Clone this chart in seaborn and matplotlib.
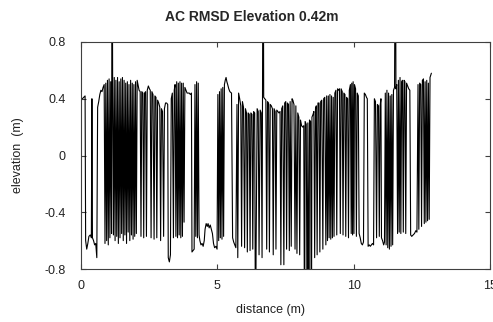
import matplotlib
matplotlib.use("Agg")
import matplotlib.pyplot as plt
import pandas as pd
import seaborn as sns

# Elevation profile, sampled along the track, in sections (distance m, elevation m)
sec1_d = [0.05, 0.10, 0.15, 0.17, 0.21, 0.25, 0.29, 0.34, 0.38, 0.40, 0.42, 0.46, 0.50, 0.54, 0.58,
          0.61, 0.65, 0.69, 0.73, 0.77, 0.81, 0.85]
sec1_e = [0.40, 0.41, 0.42, -0.60, -0.66, -0.62, -0.57, -0.56, -0.58, 0.40, -0.58, -0.60, -0.63, -0.62, -0.72,
          0.34, 0.38, 0.43, 0.46, 0.45, 0.48, 0.50]

sec2_d = [0.88, 0.91, 0.94, 0.97, 1.00, 1.03, 1.06, 1.09, 1.12, 1.14,
          1.16, 1.19, 1.22, 1.25, 1.28, 1.31, 1.34, 1.37, 1.40, 1.43,
          1.46, 1.49, 1.52, 1.55, 1.58, 1.61, 1.64, 1.67, 1.70, 1.73,
          1.76, 1.79, 1.82, 1.85, 1.88, 1.91, 1.94, 1.97, 2.00, 2.03,
          2.06, 2.09]
sec2_e = [-0.62, 0.51, -0.60, 0.53, -0.63, 0.54, -0.58, 0.52, -0.55, 2.00,
          0.54, -0.56, 0.55, -0.60, 0.53, -0.57, 0.55, -0.62, 0.52, -0.58,
          0.54, -0.55, 0.55, -0.60, 0.53, -0.56, 0.51, -0.62, 0.52, -0.54,
          0.50, -0.60, 0.53, -0.56, 0.51, -0.59, 0.50, -0.57, 0.52, -0.55,
          0.53, 0.50]

sec3_d = [2.13, 2.17, 2.20, 2.23, 2.27, 2.30, 2.33, 2.37, 2.40, 2.43,
          2.47, 2.51, 2.54, 2.57, 2.60, 2.64, 2.68, 2.71, 2.75, 2.78,
          2.81, 2.85, 2.89, 2.92, 2.95, 2.99, 3.03, 3.06, 3.10, 3.14,
          3.18, 3.20, 3.24, 3.28, 3.31, 3.35, 3.39, 3.42, 3.45]
sec3_e = [0.46, 0.45, -0.57, 0.45, 0.44, -0.58, 0.44, 0.45, -0.57, 0.46,
          0.49, 0.47, 0.46, -0.58, 0.45, 0.43, -0.59, 0.42, 0.41, -0.58,
          0.39, 0.37, 0.34, -0.60, 0.33, 0.31, -0.57, 0.33, 0.37, 0.37,
          0.36, -0.72, -0.75, -0.70, 0.40, 0.44, -0.58, 0.46, 0.50]

sec4_d = [3.48, 3.51, 3.54, 3.57, 3.60, 3.63, 3.66, 3.69, 3.72, 3.75,
          3.78, 3.81, 3.85, 3.89, 3.93, 3.97, 4.01, 4.05, 4.07, 4.11,
          4.15, 4.18, 4.21, 4.24, 4.27, 4.30, 4.33, 4.36, 4.40, 4.44,
          4.48, 4.52, 4.55, 4.59, 4.63, 4.66, 4.70, 4.74, 4.78, 4.82,
          4.86, 4.90, 4.95, 4.99, 5.02, 5.05, 5.08, 5.11, 5.14, 5.17,
          5.20, 5.23, 5.26, 5.29, 5.32, 5.35, 5.38, 5.42]
sec4_e = [-0.57, 0.52, -0.58, 0.51, -0.56, 0.52, -0.58, 0.51, -0.57, 0.51,
          -0.47, 0.48, 0.46, 0.44, 0.44, 0.44, 0.43, 0.44, -0.68, -0.67,
          -0.66, 0.50, -0.57, 0.52, -0.58, 0.51, -0.56, -0.60, -0.63, -0.62,
          -0.64, -0.60, -0.52, -0.48, -0.50, -0.48, -0.51, -0.49, -0.52, -0.55,
          -0.62, -0.65, -0.64, -0.66, 0.43, -0.60, 0.45, -0.58, 0.47, -0.59,
          0.48, -0.57, 0.50, 0.53, 0.55, 0.52, 0.50, 0.47]

sec5_d = [5.46, 5.52, 5.56, 5.60, 5.64, 5.68, 5.72, 5.75, 5.78, 5.82,
          5.86, 5.89, 5.92, 5.96, 6.00, 6.03, 6.07, 6.10, 6.13, 6.17,
          6.20, 6.23, 6.27, 6.30, 6.33, 6.37, 6.40, 6.42, 6.46, 6.50,
          6.53, 6.57, 6.61, 6.64, 6.68, 6.70, 6.74, 6.78, 6.81, 6.84,
          6.88, 6.91, 6.94, 6.98, 7.02, 7.05, 7.08, 7.12, 7.15, 7.18]
sec5_e = [0.45, 0.44, -0.58, -0.61, -0.63, -0.65, 0.36, -0.72, 0.44, 0.40,
          0.35, -0.64, 0.38, 0.34, -0.65, 0.33, 0.30, -0.68, 0.30, 0.29,
          -0.67, 0.30, 0.29, -0.66, 0.31, 0.30, -1.50, -0.70, 0.33, 0.31,
          -0.70, 0.32, 0.30, -0.72, 2.00, 0.41, 0.40, 0.39, -0.66, 0.38,
          0.37, -0.68, 0.36, 0.35, 0.33, -0.70, 0.33, 0.31, -0.66, 0.32]

sec6_d = [7.22, 7.26, 7.30, 7.33, 7.36, 7.40, 7.44, 7.47, 7.51, 7.54,
          7.57, 7.61, 7.64, 7.67, 7.71, 7.74, 7.77, 7.81, 7.85, 7.88,
          7.92, 7.95, 7.99, 8.02, 8.05, 8.09, 8.13, 8.17, 8.20, 8.22,
          8.26, 8.30, 8.32, 8.36, 8.38, 8.42, 8.45, 8.47, 8.51, 8.54,
          8.57, 8.60, 8.63, 8.66, 8.69, 8.73, 8.76, 8.79, 8.83, 8.87,
          8.90, 8.94, 8.98, 9.01, 9.04, 9.07, 9.10, 9.13, 9.16, 9.19]
sec6_e = [0.31, 0.30, 0.31, -0.77, 0.33, 0.35, -0.77, 0.37, 0.38, -0.66,
          0.37, 0.36, -0.67, 0.38, -0.64, 0.40, 0.39, 0.36, -0.66, 0.35,
          -0.69, 0.30, 0.27, -0.70, 0.25, 0.21, 0.20, 0.21, -1.50, 0.24,
          0.22, -1.50, 0.23, -1.50, 0.25, 0.24, -1.50, 0.27, 0.29, 0.31,
          -0.72, 0.33, 0.35, -0.70, 0.37, 0.37, -0.68, 0.38, 0.39, -0.66,
          0.40, 0.41, -0.63, 0.42, -0.60, 0.42, -0.58, 0.43, -0.59, 0.42]

sec7_d = [9.22, 9.25, 9.28, 9.31, 9.35, 9.38, 9.41, 9.45, 9.48, 9.51,
          9.54, 9.58, 9.61, 9.64, 9.68, 9.71, 9.74, 9.78, 9.81, 9.84,
          9.88, 9.91, 9.93, 9.96, 9.98, 10.01, 10.03, 10.07, 10.10, 10.13,
          10.17, 10.20, 10.24, 10.28, 10.32, 10.36, 10.39, 10.43, 10.47, 10.50,
          10.53, 10.57, 10.61, 10.65, 10.69, 10.73, 10.76, 10.80, 10.84, 10.87,
          10.91, 10.94, 10.97]
sec7_e = [-0.58, 0.41, -0.57, 0.44, 0.46, -0.56, 0.47, 0.46, 0.47, -0.55,
          0.47, 0.45, -0.56, 0.44, 0.43, -0.57, 0.41, 0.40, -0.58, 0.46,
          0.50, -0.55, 0.51, -0.56, 0.52, -0.55, 0.50, 0.47, -0.57, 0.44,
          0.42, -0.55, -0.58, -0.62, -0.63, -0.61, 0.44, 0.43, 0.41, 0.40,
          -0.64, -0.63, -0.64, -0.63, -0.62, -0.63, 0.40, 0.38, -0.58, 0.36,
          0.35, -0.57, 0.35]

sec8_d = [11.00, 11.02, 11.06, 11.10, 11.13, 11.16, 11.19, 11.22, 11.25, 11.28,
          11.31, 11.34, 11.37, 11.40, 11.43, 11.46, 11.50, 11.53, 11.55, 11.58,
          11.61, 11.64, 11.67, 11.70, 11.73, 11.76, 11.79, 11.82, 11.85, 11.88,
          11.91, 11.94, 11.98, 12.02, 12.06, 12.09, 12.13, 12.18, 12.23, 12.28,
          12.32, 12.36, 12.39, 12.42, 12.46, 12.49, 12.52, 12.56, 12.59, 12.62,
          12.65, 12.68, 12.71, 12.74, 12.77, 12.80, 12.85]
sec8_e = [0.40, -0.58, -0.60, -0.63, -0.61, 0.44, -0.63, 0.46, -0.65, 0.44,
          -0.66, 0.42, -0.64, 0.43, -0.63, 0.46, 0.48, 2.00, 0.47, 0.50,
          -0.55, 0.53, -0.54, 0.55, -0.55, 0.52, 0.53, -0.54, 0.53, 0.52,
          -0.55, 0.51, 0.49, 0.47, 0.46, -0.56, -0.57, -0.56, -0.55, -0.53,
          -0.54, 0.50, -0.52, 0.51, 0.50, -0.50, 0.53, 0.54, -0.48, 0.52,
          -0.47, 0.53, -0.46, 0.51, -0.45, 0.55, 0.58]

sections_d = [sec1_d, sec2_d, sec3_d, sec4_d, sec5_d, sec6_d, sec7_d, sec8_d]
sections_e = [sec1_e, sec2_e, sec3_e, sec4_e, sec5_e, sec6_e, sec7_e, sec8_e]
for sd, se in zip(sections_d, sections_e):
    assert len(sd) == len(se)

distance = [v for s in sections_d for v in s]
elevation = [v for s in sections_e for v in s]

x_ticks = [0, 5, 10, 15]
y_ticks = [-0.8, -0.4, 0, 0.4, 0.8]
y_tick_labels = ["-0.8", "-0.4", "0", "0.4", "0.8"]

profile = pd.DataFrame({"distance": distance, "elevation": elevation})

sns.set_style("ticks")
plt.rcParams["font.family"] = ["Liberation Sans", "DejaVu Sans"]

W, H = 493, 322
fig = plt.figure(figsize=(W / 100, H / 100), dpi=100)
ax = fig.add_axes([81 / W, (H - 269) / H, 409 / W, 227 / H])

sns.lineplot(data=profile, x="distance", y="elevation", sort=False,
             estimator=None, color="black", linewidth=0.8, ax=ax)

ax.set_xlim(0, 15)
ax.set_ylim(-0.8, 0.8)
ax.set_xticks(x_ticks)
ax.set_yticks(y_ticks)
ax.set_yticklabels(y_tick_labels)

edge = "#404040"
for sp in ax.spines.values():
    sp.set_visible(True)
    sp.set_color(edge)
    sp.set_linewidth(0.8)
ax.tick_params(direction="in", top=True, right=True, length=3.5, width=0.8,
               color=edge, labelsize=9, labelcolor="#222222")
ax.tick_params(axis="y", pad=11)
ax.tick_params(axis="x", pad=8)

ax.set_xlabel("distance (m)", fontsize=9, color="#222222")
ax.set_ylabel("elevation  (m)", fontsize=9, color="#222222")
ax.xaxis.set_label_coords((271 - 81) / 409, -0.155)
ax.yaxis.set_label_coords(-0.14, 0.5)

fig.text(252 / W, 1 - 17 / H, "AC RMSD Elevation 0.42m", ha="center",
         va="center", fontsize=10, fontweight="bold")

fig.savefig("out.png", dpi=100)
